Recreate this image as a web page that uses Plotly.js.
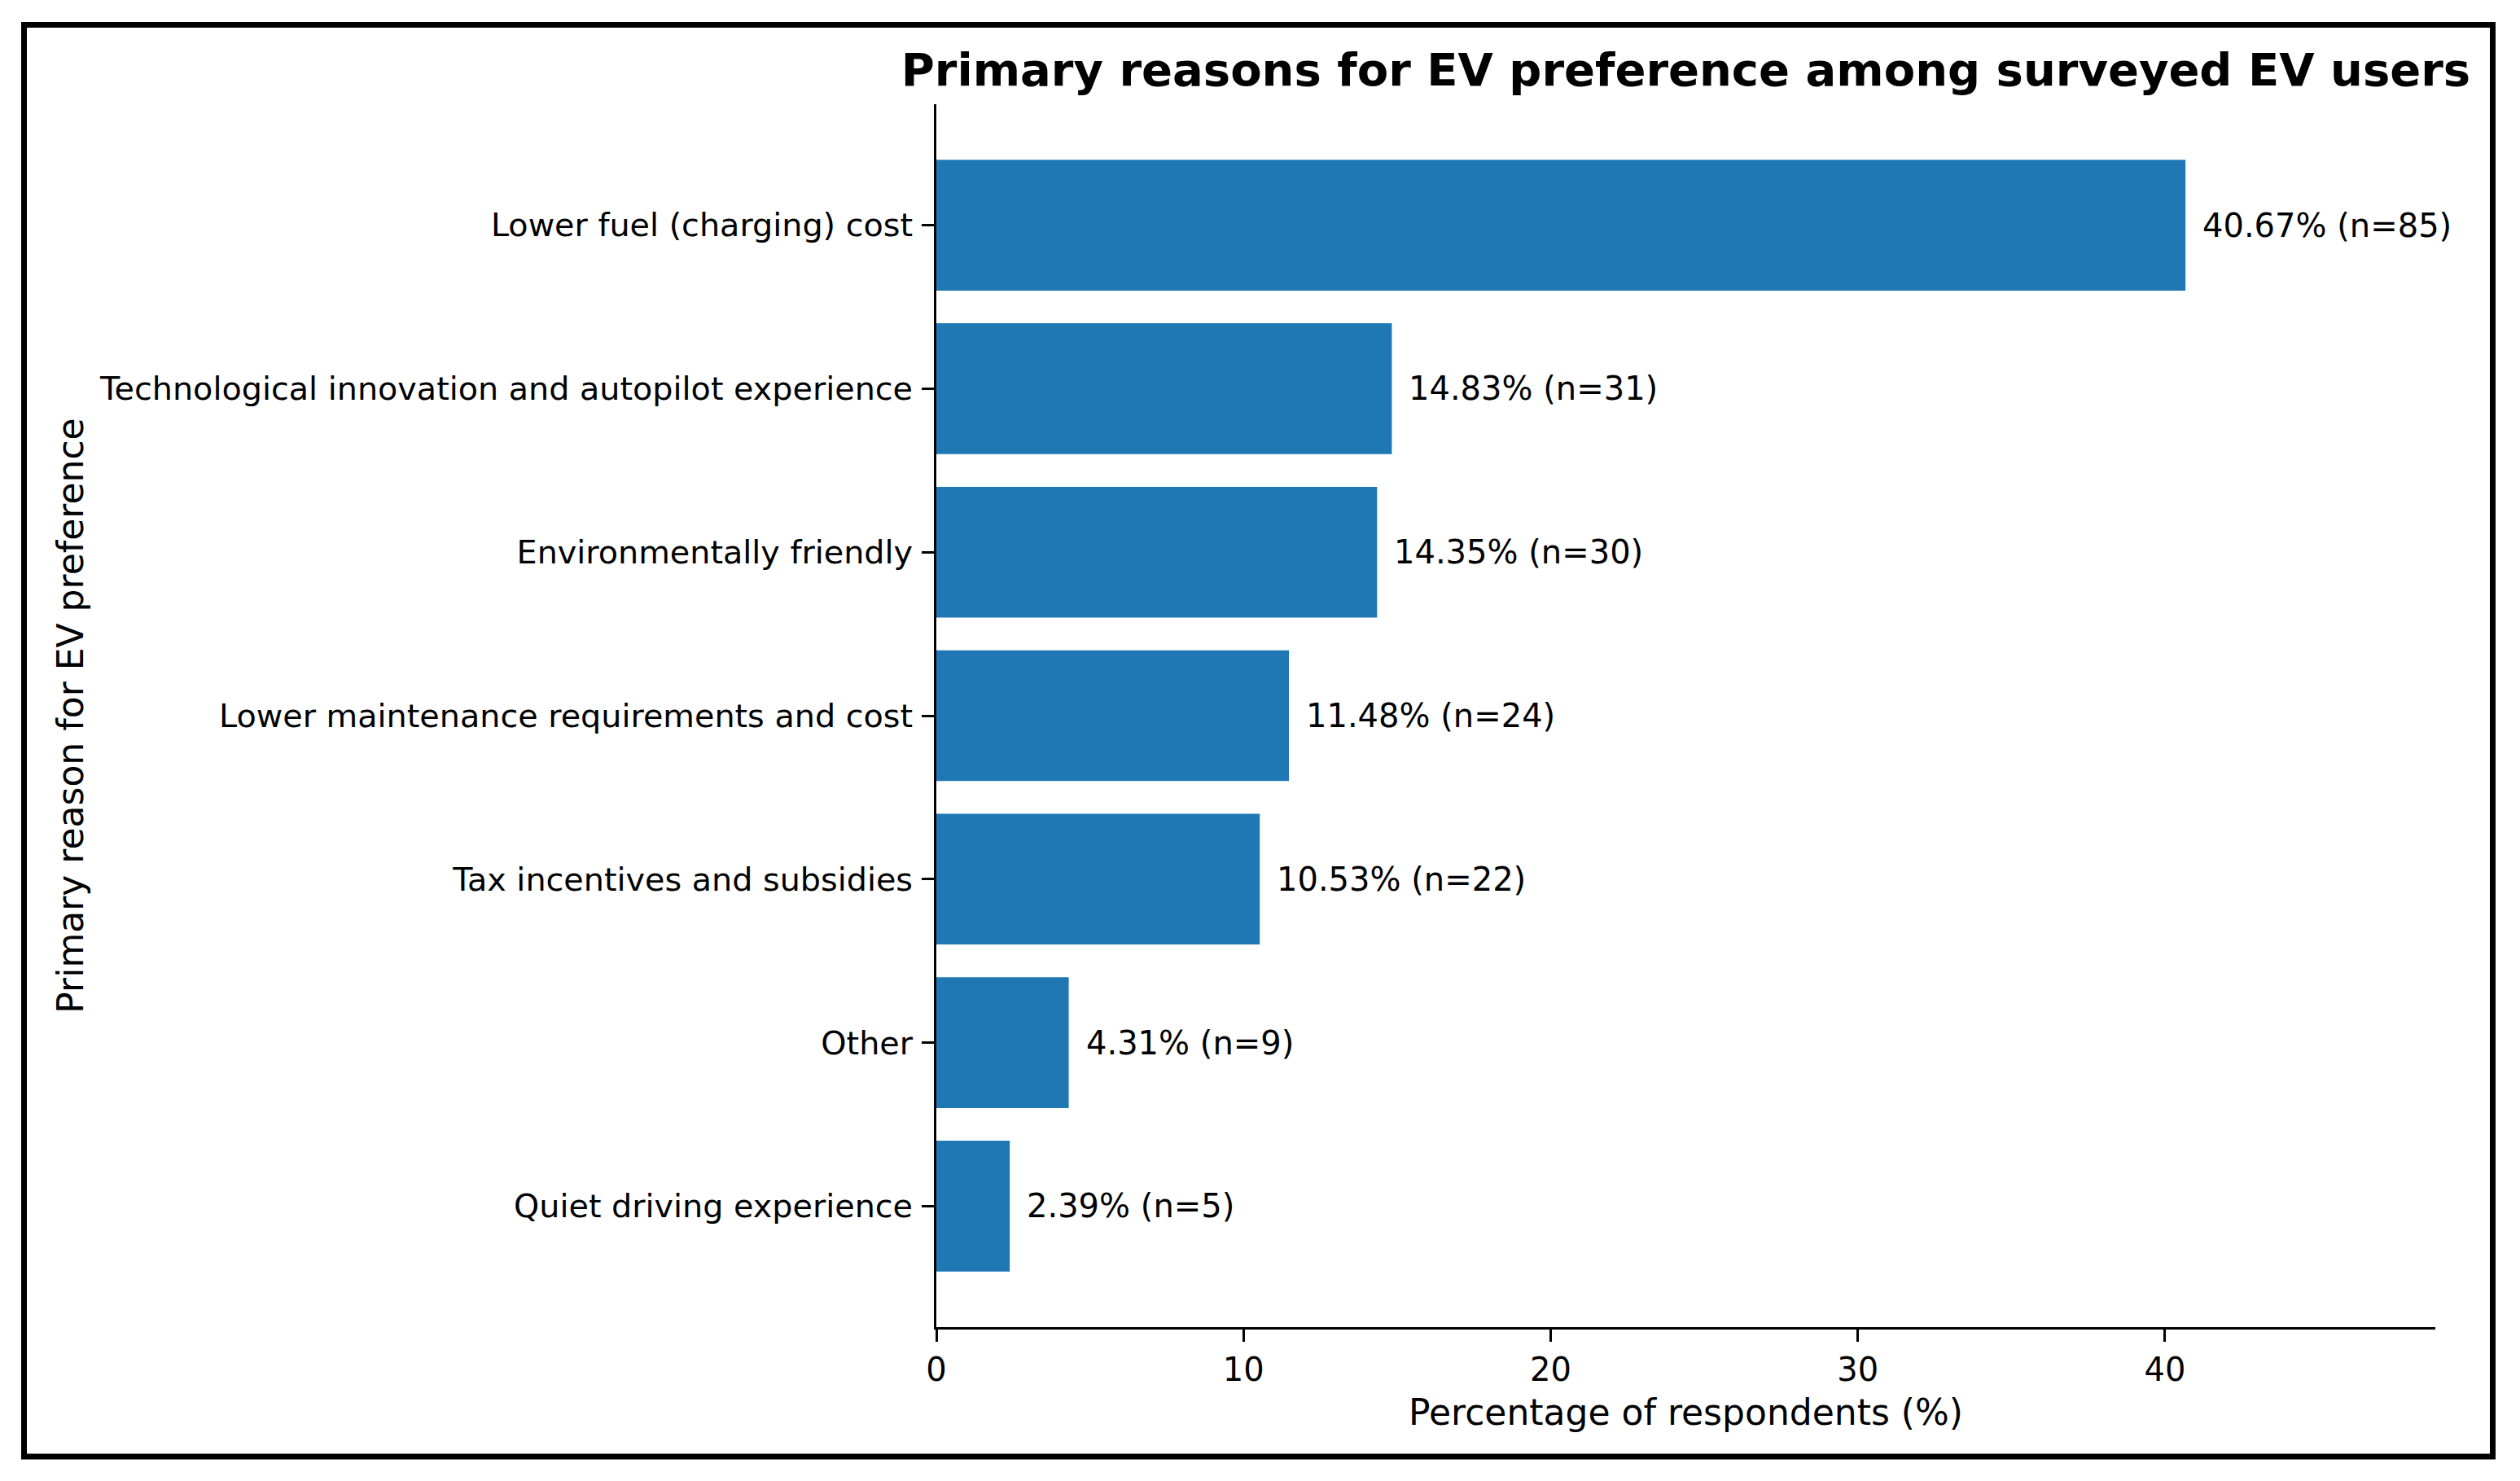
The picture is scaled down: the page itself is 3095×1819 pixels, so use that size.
<!DOCTYPE html>
<html>
<head>
<meta charset="utf-8">
<script src="https://cdn.plot.ly/plotly-3.0.1.min.js"></script>
<style>
  html, body { margin: 0; padding: 0; background: #ffffff; }
  #chart { width: 3095px; height: 1819px; }
</style>
</head>
<body>
<div id="chart"></div>
<script>
// ---- Data ----
const reasons = [
  "Lower fuel (charging) cost",
  "Technological innovation and autopilot experience",
  "Environmentally friendly",
  "Lower maintenance requirements and cost",
  "Tax incentives and subsidies",
  "Other",
  "Quiet driving experience"
];
const percentages = [40.67, 14.83, 14.35, 11.48, 10.53, 4.31, 2.39];
const counts = [85, 31, 30, 24, 22, 9, 5];
const xTickValues = [0, 10, 20, 30, 40];

const titleText = "Primary reasons for EV preference among surveyed EV users";
const xTitleText = "Percentage of respondents (%)";
const yTitleText = "Primary reason for EV preference";

// ---- Layout geometry (pixels) ----
const W = 3095, H = 1819;
const plotL = 1150, plotR = 2991, plotT = 128, plotB = 1630;
const plotW = plotR - plotL, plotH = plotB - plotT;
function px2paperX(px) { return (px - plotL) / plotW; }
function px2paperY(py) { return (plotB - py) / plotH; }

const FONT = "DejaVu Sans, Liberation Sans, sans-serif";
const barColor = "#1f77b4";

const trace = {
  type: "bar",
  orientation: "h",
  x: percentages,
  y: reasons,
  marker: { color: barColor, line: { width: 0 } },
  hoverinfo: "x+y",
  showlegend: false
};

const labelAnnotations = reasons.map((r, i) => ({
  x: percentages[i],
  y: r,
  xref: "x",
  yref: "y",
  text: percentages[i].toFixed(2) + "% (n=" + counts[i] + ")",
  showarrow: false,
  xanchor: "left",
  yanchor: "middle",
  xshift: 19,
  font: { family: FONT, size: 40, color: "#000000" }
}));

const maxPct = Math.max(...percentages);

const layout = {
  width: W,
  height: H,
  paper_bgcolor: "#ffffff",
  plot_bgcolor: "#ffffff",
  margin: { l: plotL, r: W - plotR, t: plotT, b: H - plotB, pad: 0 },
  bargap: 0.2,
  font: { family: FONT, color: "#000000" },
  title: {
    text: "<b>" + titleText + "</b>",
    font: { family: FONT, size: 56, color: "#000000" },
    xref: "paper",
    x: 0.5,
    xanchor: "center",
    yref: "container",
    y: 1 - 85 / H,
    yanchor: "middle"
  },
  xaxis: {
    range: [0, maxPct * 1.2],
    tickvals: xTickValues,
    ticktext: xTickValues.map(String),
    ticks: "outside",
    ticklen: 15,
    tickwidth: 3,
    tickcolor: "#000000",
    showline: true,
    linewidth: 3,
    linecolor: "#000000",
    showgrid: false,
    zeroline: false,
    mirror: false,
    tickfont: { family: FONT, size: 40, color: "#000000" },
    title: {
      text: xTitleText,
      font: { family: FONT, size: 44, color: "#000000" },
      standoff: 16
    },
    automargin: false
  },
  yaxis: {
    type: "category",
    categoryorder: "array",
    categoryarray: reasons,
    range: [reasons.length - 1 + 0.74, -0.74],
    ticks: "outside",
    ticklen: 15,
    tickwidth: 3,
    tickcolor: "#000000",
    showline: true,
    linewidth: 3,
    linecolor: "#000000",
    showgrid: false,
    zeroline: false,
    mirror: false,
    ticklabelstandoff: 3,
    tickfont: { family: FONT, size: 39.7, color: "#000000" },
    title: {
      text: yTitleText,
      font: { family: FONT, size: 44, color: "#000000" },
      standoff: 6
    },
    automargin: false
  },
  annotations: labelAnnotations,
  shapes: [
    {
      type: "rect",
      xref: "paper",
      yref: "paper",
      x0: px2paperX(29.5),
      x1: px2paperX(3061.5),
      y0: px2paperY(1789),
      y1: px2paperY(30.5),
      line: { color: "#000000", width: 7 },
      fillcolor: "rgba(0,0,0,0)",
      layer: "above"
    }
  ]
};

Plotly.newPlot("chart", [trace], layout, { displayModeBar: false, responsive: false });
</script>
</body>
</html>
